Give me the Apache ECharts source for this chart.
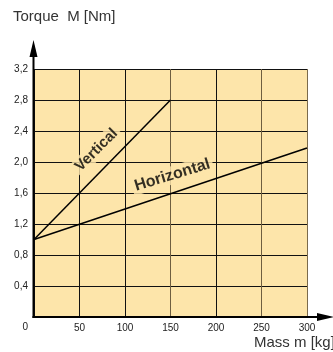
<!DOCTYPE html>
<html><head><meta charset="utf-8">
<script src="https://cdn.jsdelivr.net/npm/echarts@6/dist/echarts.min.js"></script>
<style>html,body{margin:0;padding:0;background:#fff}#c{width:333px;height:352px}</style>
</head><body><div id="c"></div>
<script>
// Data
const massTicks = [0, 50, 100, 150, 200, 250, 300];
const torqueTicks = [0, 0.4, 0.8, 1.2, 1.6, 2.0, 2.4, 2.8, 3.2];
const verticalLine = [[0, 1.0], [150, 2.8]];
const horizontalLine = [[0, 1.0], [300, 2.18]];
const labelNames = ['Vertical', 'Horizontal'];
const labelPositions = [[68.7, 2.155], [152, 1.83]];
const labelAngles = [45, 17];
const yTitle = 'Torque  M [Nm]';
const xTitle = 'Mass m [kg]';

const FILL = '#fde5aa';
const FONT = 'Liberation Sans, Arial, sans-serif';

const chart = echarts.init(document.getElementById('c'), null, {renderer: 'canvas'});
const option = {
  animation: false,
  backgroundColor: '#fff',
  grid: [
    {left: 34, right: 26, top: 69, bottom: 35, show: true, backgroundColor: FILL, borderWidth: 0}
  ],
  xAxis: [
    {type: 'value', min: massTicks[0], max: massTicks[massTicks.length - 1], interval: 50,
     axisLine: {show: false}, axisTick: {show: false},
     splitLine: {show: true, lineStyle: {width: 1, color: ['#111', '#111', '#111', '#6e5e40', '#111', '#6e5e40', '#7a6a4c']}},
     axisLabel: {margin: 6, showMinLabel: false, color: '#222', fontFamily: FONT, fontSize: 10}}
  ],
  yAxis: [
    {type: 'value', min: torqueTicks[0], max: torqueTicks[torqueTicks.length - 1], interval: 0.4,
     axisLine: {show: false}, axisTick: {show: false},
     splitLine: {show: true, lineStyle: {width: 1, color: '#111'}},
     axisLabel: {margin: 6, color: '#222', fontFamily: FONT, fontSize: 10,
       formatter: v => v === 0 ? '{z|0}' : v.toFixed(1).replace('.', ','),
       rich: {z: {padding: [20, 0, 0, 0], color: '#222', fontFamily: FONT, fontSize: 10}}}}
  ],
  series: [
    {type: 'line', data: verticalLine, showSymbol: false, symbol: 'none',
     lineStyle: {color: '#000', width: 1.5}, z: 3},
    {type: 'line', data: horizontalLine, showSymbol: false, symbol: 'none',
     lineStyle: {color: '#000', width: 1.5}, z: 3},
    {type: 'scatter', symbolSize: 0, z: 4,
     data: labelNames.map((n, i) => ({
       name: n, value: labelPositions[i],
       label: {show: true, position: 'inside', formatter: n, rotate: labelAngles[i],
         fontFamily: FONT, fontWeight: 'bold', fontSize: i === 0 ? 15 : 16, color: '#000',
         backgroundColor: FILL, padding: [1, 3]}
     }))}
  ]
};
chart.setOption(option);

const o = chart.convertToPixel({gridIndex: 0}, [0, 0]);
const ox = o[0] - 0.5, oy = o[1];
chart.setOption({
  graphic: [
    {type: 'text', left: 13, top: 9, style: {text: yTitle, font: '15px ' + FONT, fill: '#333'}},
    {type: 'text', left: 254, top: 335, style: {text: xTitle, font: '15px ' + FONT, fill: '#333'}},
    {type: 'line', z: 10, shape: {x1: ox, y1: oy + 1, x2: ox, y2: 56}, style: {stroke: '#000', lineWidth: 2}},
    {type: 'polygon', z: 10, shape: {points: [[ox - 4, 57], [ox + 4, 57], [ox, 40]]}, style: {fill: '#000'}},
    {type: 'line', z: 10, shape: {x1: ox - 1, y1: oy, x2: 318, y2: oy}, style: {stroke: '#000', lineWidth: 2}},
    {type: 'polygon', z: 10, shape: {points: [[317, oy - 4], [317, oy + 4], [334, oy]]}, style: {fill: '#000'}}
  ]
});
</script></body></html>
